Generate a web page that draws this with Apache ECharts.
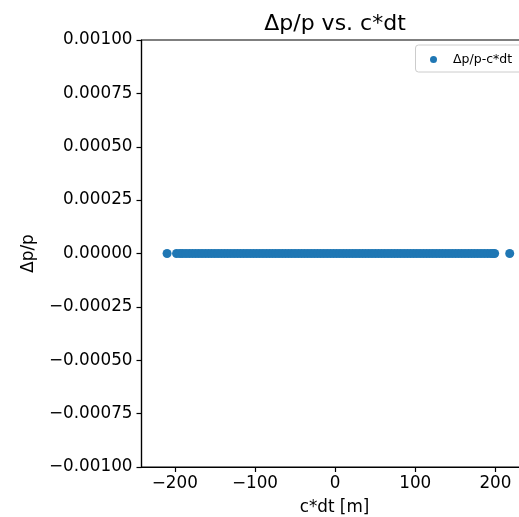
<!DOCTYPE html>
<html>
<head>
<meta charset="utf-8">
<script src="https://cdn.jsdelivr.net/npm/echarts@6/dist/echarts.min.js"></script>
<style>html,body{margin:0;padding:0;background:#fff;}#c{width:519px;height:517px;}</style>
</head>
<body>
<div id="c"></div>
<script>
var titleText = 'Δp/p vs. c*dt';
var seriesName = 'Δp/p-c*dt';
var xTicks = [-200, -100, 0, 100, 200];
var cdt = [-209.6, -197.8, -193.5, -190, -186, -182, -178, -174, -170, -166, -162, -158, -154, -150, -146, -142, -138, -134, -130, -126, -122, -118, -114, -110, -106, -102, -98, -94, -90, -86, -82, -78, -74, -70, -66, -62, -58, -54, -50, -46, -42, -38, -34, -30, -26, -22, -18, -14, -10, -6, -2, 2, 6, 10, 14, 18, 22, 26, 30, 34, 38, 42, 46, 50, 54, 58, 62, 66, 70, 74, 78, 82, 86, 90, 94, 98, 102, 106, 110, 114, 118, 122, 126, 130, 134, 138, 142, 146, 150, 154, 158, 162, 166, 170, 174, 178, 182, 186, 190, 194, 197, 199, 217.8];
var dpp = [0, 0, 0, 0, 0, 0, 0, 0, 0, 0, 0, 0, 0, 0, 0, 0, 0, 0, 0, 0, 0, 0, 0, 0, 0, 0, 0, 0, 0, 0, 0, 0, 0, 0, 0, 0, 0, 0, 0, 0, 0, 0, 0, 0, 0, 0, 0, 0, 0, 0, 0, 0, 0, 0, 0, 0, 0, 0, 0, 0, 0, 0, 0, 0, 0, 0, 0, 0, 0, 0, 0, 0, 0, 0, 0, 0, 0, 0, 0, 0, 0, 0, 0, 0, 0, 0, 0, 0, 0, 0, 0, 0, 0, 0, 0, 0, 0, 0, 0, 0, 0, 0, 0];

var pts = cdt.map(function (x, i) { return [x, dpp[i]]; });
var FONT = 'DejaVu Sans';
function fmtY(v) {
  if (Math.abs(v) < 1e-12) return '0.00000';
  var s = v.toFixed(5);
  return s.replace('-', '\u2212');
}
function fmtX(v) {
  return String(v).replace('-', '\u2212');
}
var chart = echarts.init(document.getElementById('c'), null, {renderer: 'canvas'});
chart.setOption({
  backgroundColor: '#fff',
  animation: false,
  title: {
    text: titleText, left: 330, top: 8, textAlign: 'center',
    textStyle: {fontFamily: FONT, fontSize: 22, fontWeight: 'normal', color: '#000'}
  },
  legend: {
    data: [{name: seriesName, icon: 'circle'}],
    left: 415.5, top: 45,
    itemWidth: 7, itemHeight: 7,
    padding: [8, 40, 6, 14.5],
    borderColor: '#cccccc', borderWidth: 1, borderRadius: 3,
    backgroundColor: '#fff',
    textStyle: {fontFamily: FONT, fontSize: 12.5, color: '#000', padding: [0, 0, 0, 11]}
  },
  grid: {
    left: 141.5, top: 40, width: 386, height: 427,
    outerBoundsMode: 'none', containLabel: false,
    show: true, borderColor: '#000', borderWidth: 1.2, backgroundColor: 'transparent'
  },
  xAxis: {
    type: 'value', min: -241.5, max: 240,
    name: 'c*dt [m]', nameLocation: 'middle', nameGap: 32,
    nameTextStyle: {fontFamily: FONT, fontSize: 16.8, color: '#000'},
    axisLine: {show: true, onZero: false, lineStyle: {color: '#000', width: 1.2}},
    axisTick: {show: true, length: 5, customValues: xTicks, lineStyle: {color: '#000', width: 1.2}},
    axisLabel: {customValues: xTicks, formatter: fmtX, fontFamily: FONT, fontSize: 16.8, color: '#000', margin: 8},
    splitLine: {show: false}
  },
  yAxis: {
    type: 'value', min: -0.001, max: 0.001, interval: 0.00025,
    name: 'Δp/p', nameLocation: 'middle', nameGap: 104, nameRotate: 90,
    nameTextStyle: {fontFamily: FONT, fontSize: 16.8, color: '#000'},
    axisLine: {show: true, onZero: false, lineStyle: {color: '#000', width: 1.2}},
    axisTick: {show: true, length: 5, lineStyle: {color: '#000', width: 1.2}},
    axisLabel: {formatter: fmtY, fontFamily: FONT, fontSize: 16.8, color: '#000', margin: 9},
    splitLine: {show: false}
  },
  series: [{
    name: seriesName, type: 'scatter', data: pts,
    symbol: 'circle', symbolSize: 9,
    itemStyle: {color: '#1f77b4', opacity: 1}
  }]
});
</script>
</body>
</html>
